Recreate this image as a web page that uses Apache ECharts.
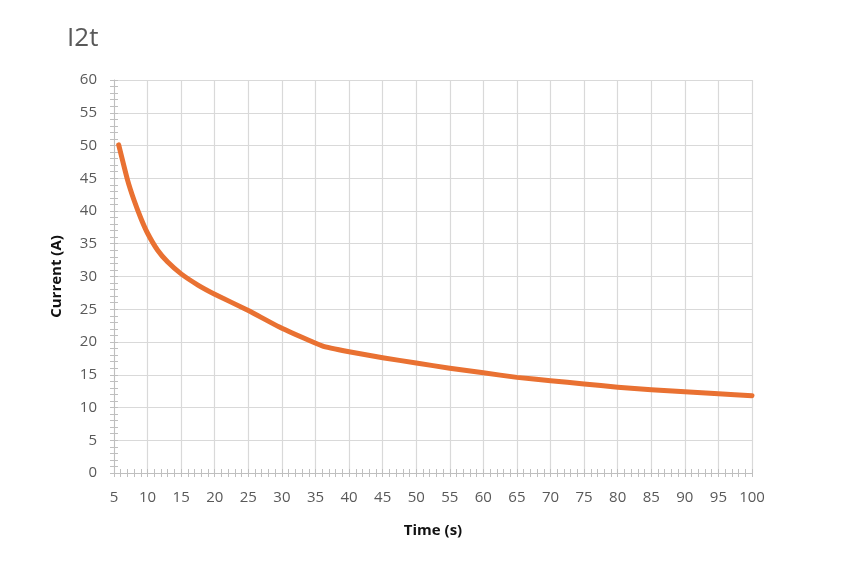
<!DOCTYPE html>
<html>
<head>
<meta charset="utf-8">
<script src="https://cdn.jsdelivr.net/npm/echarts@6/dist/echarts.min.js"></script>
<style>
html,body{margin:0;padding:0;background:#fff;}
#chart{width:845px;height:561px;}
</style>
</head>
<body>
<div id="chart"></div>
<script>
//时间(s)
var timeS=[5.7,7,8,9,10,11.5,13,15,17.5,20,25,30,36,40,45,50,55,60,65,70,75,80,85,90,95,100];
//电流(A)
var currentA=[50.1,44.8,41.6,38.9,36.6,34.0,32.2,30.4,28.7,27.3,24.8,22.1,19.4,18.5,17.6,16.8,16.0,15.3,14.6,14.1,13.6,13.1,12.7,12.4,12.1,11.8];
var xTicks={min:5,max:100,interval:5};
var yTicks={min:0,max:60,interval:5};

var gridColor='#d9d9d9',axisColor='#bfbfbf',labelColor='#595959';
var font='"Open Sans", "Liberation Sans", sans-serif';

function seriesData() {
    var arr=[];
    for(var i=0;i<timeS.length;i++){
        arr.push([timeS[i],currentA[i]]);
    }
    return arr;
}
//坐标轴(主轴/刻度穿过轴线的叠加轴)
function makeAxis(t,gridIndex,overlay){
    return {
        type:'value',
        gridIndex:gridIndex,
        min:t.min,
        max:t.max,
        interval:t.interval,
        offset:overlay?-4:0,
        axisLine:{show:true,lineStyle:{color:axisColor,width:1,opacity:overlay?0:1}},
        axisTick:{show:overlay,length:8,lineStyle:{color:axisColor}},
        minorTick:{show:overlay,splitNumber:5,length:8,lineStyle:{color:axisColor}},
        splitLine:{show:!overlay,lineStyle:{color:gridColor,width:1.2}},
        axisLabel:{show:!overlay,color:labelColor,fontSize:15,fontFamily:font,margin:17}
    };
}
var g={left:114,right:93,top:80,bottom:88};

var chart=echarts.init(document.getElementById('chart'));
var xMain=makeAxis(xTicks,0,false);
xMain.name='Time (s)';
xMain.nameLocation='middle';
xMain.nameGap=50;
xMain.nameTextStyle={color:'#111',fontSize:15,fontWeight:'bold',fontFamily:font};
var yMain=makeAxis(yTicks,0,false);
yMain.name='Current (A)';
yMain.nameLocation='middle';
yMain.nameGap=50;
yMain.nameTextStyle={color:'#111',fontSize:15,fontWeight:'bold',fontFamily:font};

var option={
    backgroundColor:'#fff',
    animation:false,
    title:{
        text:'I2t',
        left:62,
        top:21,
        textStyle:{color:labelColor,fontSize:26,fontWeight:'normal',fontFamily:font}
    },
    grid:[
        {left:g.left,right:g.right,top:g.top,bottom:g.bottom},
        {left:g.left,right:g.right,top:g.top,bottom:g.bottom}
    ],
    xAxis:[xMain,makeAxis(xTicks,1,true)],
    yAxis:[yMain,makeAxis(yTicks,1,true)],
    series:[{
        type:'line',
        xAxisIndex:0,
        yAxisIndex:0,
        data:seriesData(),
        smooth:0.15,
        showSymbol:false,
        z:3,
        lineStyle:{color:'#E97132',width:5,cap:'round',join:'round'}
    },{
        //空系列, 让叠加轴显示
        type:'line',
        xAxisIndex:1,
        yAxisIndex:1,
        data:[],
        silent:true
    }]
};
chart.setOption(option);
</script>
</body>
</html>
